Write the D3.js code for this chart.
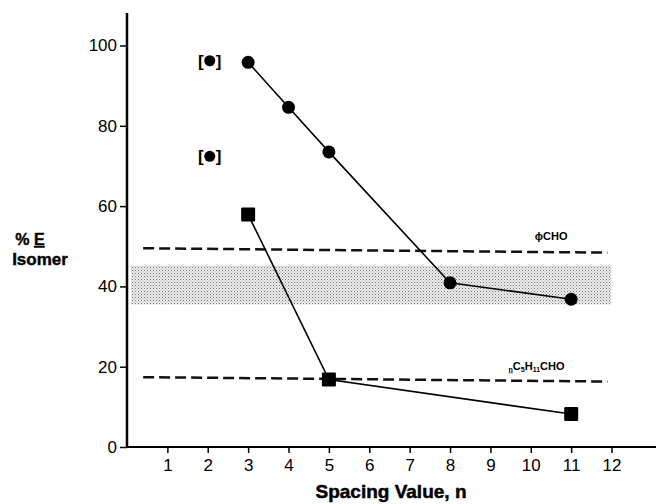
<!DOCTYPE html>
<html>
<head>
<meta charset="utf-8">
<script src="https://cdn.jsdelivr.net/npm/d3@7"></script>
<style>
  body { margin: 0; background: #fff; }
  text { font-family: "Liberation Sans", Arial, sans-serif; }
</style>
</head>
<body>
<svg id="chart" width="656" height="504"></svg>
<script>
// data
const circleN = [3, 4, 5, 8, 11];
const circleE = [95.8, 84.6, 73.5, 40.9, 36.8];
const squareN = [3, 5, 11];
const squareE = [57.9, 16.8, 8.2];
const bracketN = [2, 2];
const bracketE = [96.2, 72.4];
const phiLine = [{n: 0.4, v: 49.5}, {n: 11.9, v: 48.4}];
const pentylLine = [{n: 0.4, v: 17.4}, {n: 11.9, v: 16.3}];
const band = [35.5, 45.2];
const xTicks = [1, 2, 3, 4, 5, 6, 7, 8, 9, 10, 11, 12];
const yTicks = [0, 20, 40, 60, 80, 100];

const svg = d3.select('#chart');

const x = d3.scaleLinear().domain([0, 13.2]).range([127, 660]);
const y = d3.scaleLinear().domain([0, 100]).range([447, 45.5]);

// dotted band pattern
const defs = svg.append('defs');
const pat = defs.append('pattern')
  .attr('id', 'dots')
  .attr('width', 3).attr('height', 3)
  .attr('patternUnits', 'userSpaceOnUse');
pat.append('rect').attr('width', 3).attr('height', 3).attr('fill', '#eee');
pat.append('rect').attr('width', 1).attr('height', 1).attr('fill', '#777');
pat.append('rect').attr('x', 1.5).attr('y', 1.5).attr('width', 1).attr('height', 1).attr('fill', '#999');

svg.append('rect')
  .attr('x', x(0.1))
  .attr('y', y(band[1]))
  .attr('width', x(12) - x(0.1))
  .attr('height', y(band[0]) - y(band[1]))
  .attr('fill', 'url(#dots)');

// dashed reference lines
const refLine = d3.line().x(d => x(d.n)).y(d => y(d.v));
[phiLine, pentylLine].forEach(l => {
  svg.append('path')
    .attr('d', refLine(l))
    .attr('fill', 'none')
    .attr('stroke', '#111')
    .attr('stroke-width', 2.5)
    .attr('stroke-dasharray', '11,5');
});

svg.append('text')
  .attr('x', x(10.1)).attr('y', y(51.5))
  .attr('font-size', 11).attr('font-weight', 'bold')
  .text('\u03D5CHO');

const pl = svg.append('text')
  .attr('x', x(9.45)).attr('y', y(19.3))
  .attr('font-size', 11).attr('font-weight', 'bold');
pl.append('tspan').attr('font-size', 7).attr('dy', 2).attr('text-decoration', 'underline').text('n');
pl.append('tspan').attr('dy', -2).text('C');
pl.append('tspan').attr('font-size', 7).attr('dy', 2).text('5');
pl.append('tspan').attr('dy', -2).text('H');
pl.append('tspan').attr('font-size', 7).attr('dy', 2).text('11');
pl.append('tspan').attr('dy', -2).text('CHO');

// axes
const yAxis = svg.append('g')
  .attr('transform', 'translate(' + x(0) + ',0)')
  .call(d3.axisLeft(y).tickValues(yTicks).tickSize(7).tickSizeOuter(0));
yAxis.select('.domain').attr('d', 'M0,' + y(0) + 'V13').attr('stroke-width', 2.5);
yAxis.selectAll('.tick line').attr('stroke-width', 1.5);
yAxis.selectAll('.tick text').attr('font-size', 17).attr('fill', '#000')
  .attr('font-family', '"Liberation Sans Narrow", "Liberation Sans", Arial, sans-serif');

const xAxis = svg.append('g')
  .attr('transform', 'translate(0,' + y(0) + ')')
  .call(d3.axisBottom(x).tickValues(xTicks).tickSize(6).tickSizeOuter(0));
xAxis.select('.domain').attr('d', 'M' + x(0) + ',0H656').attr('stroke-width', 2);
xAxis.selectAll('.tick line').attr('stroke-width', 1.5);
xAxis.selectAll('.tick text').attr('font-size', 17).attr('fill', '#000').attr('dy', '0.9em')
  .attr('font-family', '"Liberation Sans Narrow", "Liberation Sans", Arial, sans-serif');

// axis titles
svg.append('text')
  .attr('x', 391).attr('y', 498)
  .attr('text-anchor', 'middle')
  .attr('font-size', 19).attr('font-weight', 'bold')
  .attr('stroke', '#000').attr('stroke-width', 0.5)
  .text('Spacing Value, n');

const yl = svg.append('text')
  .attr('x', 30).attr('y', 245)
  .attr('text-anchor', 'middle')
  .attr('font-size', 16).attr('font-weight', 'bold')
  .attr('stroke', '#000').attr('stroke-width', 0.4);
yl.append('tspan').text('% ');
yl.append('tspan').attr('text-decoration', 'underline').text('E');
svg.append('text')
  .attr('x', 40).attr('y', 265)
  .attr('text-anchor', 'middle')
  .attr('font-size', 17).attr('font-weight', 'bold')
  .attr('stroke', '#000').attr('stroke-width', 0.4)
  .text('Isomer');

// series lines
const circPts = circleN.map((n, i) => [n, circleE[i]]);
const sqPts = squareN.map((n, i) => [n, squareE[i]]);
const line = d3.line().x(d => x(d[0])).y(d => y(d[1]));

svg.append('path').attr('d', line(circPts))
  .attr('fill', 'none').attr('stroke', '#000').attr('stroke-width', 1.6);
svg.append('path').attr('d', line(sqPts))
  .attr('fill', 'none').attr('stroke', '#000').attr('stroke-width', 1.6);

svg.selectAll('circle.pt')
  .data(circPts)
  .enter().append('circle')
  .attr('class', 'pt')
  .attr('cx', d => x(d[0]))
  .attr('cy', d => y(d[1]))
  .attr('r', 6.5)
  .attr('fill', '#000');

svg.selectAll('rect.pt')
  .data(sqPts)
  .enter().append('rect')
  .attr('class', 'pt')
  .attr('x', d => x(d[0]) - 7)
  .attr('y', d => y(d[1]) - 7)
  .attr('width', 14).attr('height', 14)
  .attr('rx', 1)
  .attr('fill', '#000');

// bracketed points
const brk = svg.selectAll('g.brk')
  .data(bracketN.map((n, i) => [n, bracketE[i]]))
  .enter().append('g')
  .attr('class', 'brk')
  .attr('transform', d => 'translate(' + (x(d[0]) + 2) + ',' + y(d[1]) + ')');
brk.append('circle').attr('r', 5.5).attr('fill', '#000');
brk.append('text').attr('x', -6).attr('y', 6)
  .attr('text-anchor', 'end').attr('font-size', 17).attr('font-weight', 'bold').text('[');
brk.append('text').attr('x', 6).attr('y', 6)
  .attr('text-anchor', 'start').attr('font-size', 17).attr('font-weight', 'bold').text(']');
</script>
</body>
</html>
